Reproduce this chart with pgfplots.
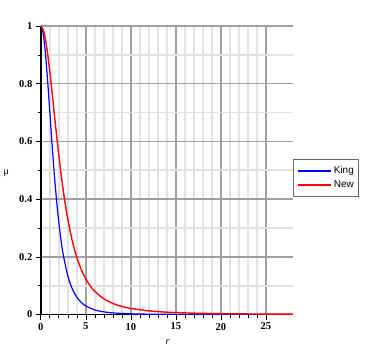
\documentclass[border=0pt]{standalone}
\usepackage{fontspec}
\setmainfont{Liberation Serif}
\newfontfamily\legendfont{Liberation Sans}
\usepackage{pgfplots}
\pgfplotsset{compat=1.18}

\definecolor{majgrid}{RGB}{160,160,160}
\definecolor{mingrid}{RGB}{226,226,226}

\begin{document}
\begin{tikzpicture}
\begin{axis}[
  at={(0pt,0pt)}, anchor=south west,
  scale only axis,
  width=252pt, height=288.5pt,
  xmin=0, xmax=28, ymin=0, ymax=1,
  axis x line=bottom, axis y line=left,
  axis line style={-, black, line width=1.6pt},
  xtick={0,5,...,25}, ytick={0,0.2,...,1},
  minor x tick num=4, minor y tick num=1,
  tick align=outside,
  major tick length=5pt, minor tick length=3pt,
  every tick/.style={black, line width=0.6pt},
  grid=both,
  major grid style={majgrid, line width=1.4pt},
  minor grid style={mingrid, line width=1.8pt},
  /pgf/number format/assume math mode=true,
  ticklabel style={font=\fontsize{10.5}{12}\selectfont\bfseries},
  xlabel={\textit{r}},
  xlabel style={at={(axis description cs:0.503,-0.097)}, anchor=center, font=\fontsize{10}{11}\selectfont},
  ylabel={μ},
  ylabel style={at={(axis description cs:-0.137,0.49)}, anchor=center, rotate=-90, font=\fontsize{10}{11}\selectfont},
  legend style={at={(1,0.473)}, anchor=west, draw=black!60, line width=0.8pt,
    font=\legendfont\fontsize{10}{11}\selectfont, inner xsep=3pt, inner ysep=5pt, row sep=1.5pt},
  legend cell align=left,
  legend image code/.code={\draw[#1] (0pt,0pt) -- (33pt,0pt);},
]
\addlegendimage{blue, line width=1.8pt}
\addlegendentry{King}
\addlegendimage{red, line width=2.6pt}
\addlegendentry{New}
\addplot[blue, line width=1.2pt, smooth, forget plot] coordinates {
  (0,1) (0.25,0.9764) (0.5,0.9103) (0.75,0.8142) (1,0.7034) (1.25,0.5912)
  (1.5,0.4871) (1.75,0.3960) (2,0.3194) (2.25,0.2567) (2.5,0.2062) (3,0.1340)
  (3.5,0.0888) (4,0.0601) (4.5,0.0417) (5,0.0296) (6,0.0159) (7,0.0092)
  (8,0.0056) (9,0.0036) (10,0.0024) (12,0.0012) (14,0.0007) (16,0.0004)
  (18,0.0003) (20,0.0002) (24,0.0001) (28,0.00004)
};
\addplot[red, line width=1.4pt, smooth, forget plot] coordinates {
  (0,1) (0.25,0.9887) (0.5,0.9561) (0.75,0.9057) (1,0.8421) (1.25,0.7706)
  (1.5,0.6961) (1.75,0.6224) (2,0.5522) (2.25,0.4874) (2.5,0.4287) (2.75,0.3764)
  (3,0.3303) (3.5,0.2549) (4,0.1981) (4.5,0.1555) (5,0.1234) (5.5,0.0990)
  (6,0.0803) (7,0.0546) (8,0.0385) (9,0.0280) (10,0.0210) (12,0.0126)
  (14,0.0081) (16,0.0055) (18,0.0039) (20,0.0029) (22,0.0022) (24,0.0017)
  (26,0.0013) (28,0.0011)
};
\end{axis}
\path (-40.8pt,-44.5pt) rectangle (341.2pt,314.5pt);
\end{tikzpicture}
\end{document}
